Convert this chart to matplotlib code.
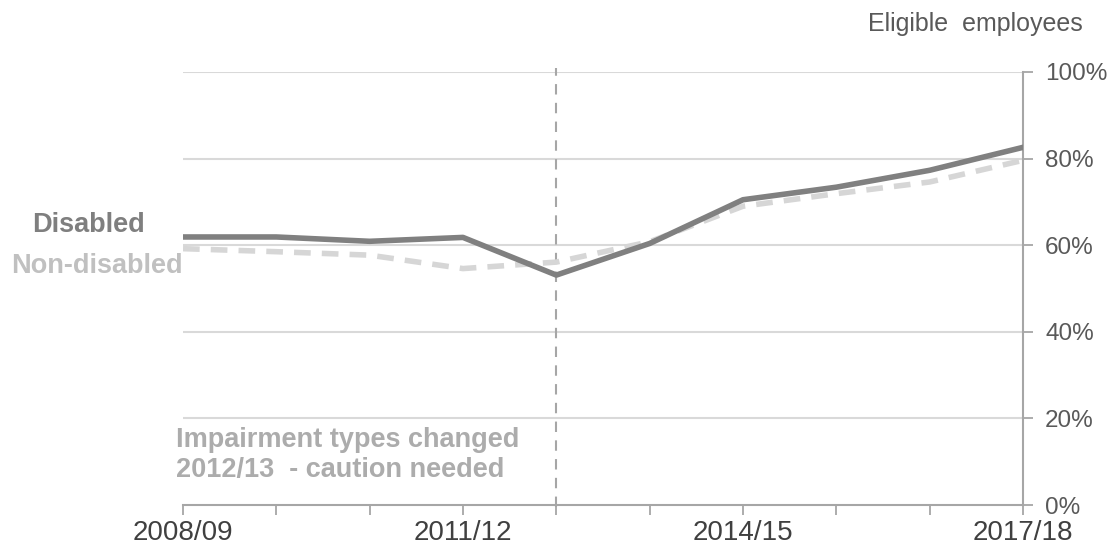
import matplotlib.pyplot as plt
import numpy as np

plt.rcParams['font.family'] = ['Liberation Sans', 'DejaVu Sans']

# data
years = ['2008/09', '2009/10', '2010/11', '2011/12', '2012/13',
         '2013/14', '2014/15', '2015/16', '2016/17', '2017/18']
disabled = [61.9, 61.9, 60.9, 61.8, 53.1, 60.4, 70.5, 73.4, 77.3, 82.6]
non_disabled = [59.2, 58.5, 57.7, 54.6, 56.1, 60.8, 69.0, 71.9, 74.6, 79.6]
shown_labels = ['2008/09', '2011/12', '2014/15', '2017/18']
y_ticks = [0, 20, 40, 60, 80, 100]

x = np.arange(len(years))

fig = plt.figure(figsize=(11.15, 5.49), dpi=100)
ax = fig.add_axes([183/1115, 1-505/549, (1023-183)/1115, (505-72)/549])

for t in y_ticks[1:]:
    ax.axhline(t, color='#d9d9d9', lw=1.5, zorder=1)

ax.plot(x, non_disabled, color='#d6d6d6', lw=4, ls=(0, (3, 2)), zorder=3)
ax.plot(x, disabled, color='#808080', lw=4, zorder=4)

# break in series
ax.plot([4, 4], [-0.5, 101], color='#a6a6a6', lw=1.5, ls=(0, (5, 4)),
        clip_on=False, zorder=2)

ax.set_xlim(0, len(years) - 1)
ax.set_ylim(0, 100)

ax.set_xticks(x)
ax.set_xticklabels([y if y in shown_labels else '' for y in years])
ax.yaxis.tick_right()
ax.set_yticks(y_ticks)
ax.set_yticklabels([f'{t}%' for t in y_ticks])

for s in ['top', 'left']:
    ax.spines[s].set_visible(False)
for s in ['bottom', 'right']:
    ax.spines[s].set_color('#a6a6a6')
    ax.spines[s].set_linewidth(1.5)

ax.tick_params(axis='x', length=7, width=1.3, color='#a6a6a6', labelsize=20,
               labelcolor='#404040', pad=4)
ax.tick_params(axis='y', length=7, width=1.3, color='#a6a6a6', labelsize=17.5,
               labelcolor='#595959', pad=9)

fig.text(1083/1115, 1-24/549, 'Eligible  employees', ha='right', va='center',
         fontsize=18, color='#595959')

fig.text(145/1115, 1-225/549, 'Disabled', ha='right', va='center',
         fontsize=19.5, fontweight='bold', color='#7f7f7f')
fig.text(183/1115, 1-266/549, 'Non-disabled', ha='right', va='center',
         fontsize=19.5, fontweight='bold', color='#c0c0c0')

fig.text(176/1115, 1-440/549, 'Impairment types changed', ha='left', va='center',
         fontsize=19.5, fontweight='bold', color='#acacac')
fig.text(176/1115, 1-470/549, '2012/13  - caution needed', ha='left', va='center',
         fontsize=19.5, fontweight='bold', color='#acacac')

fig.savefig('out.png', dpi=100)
